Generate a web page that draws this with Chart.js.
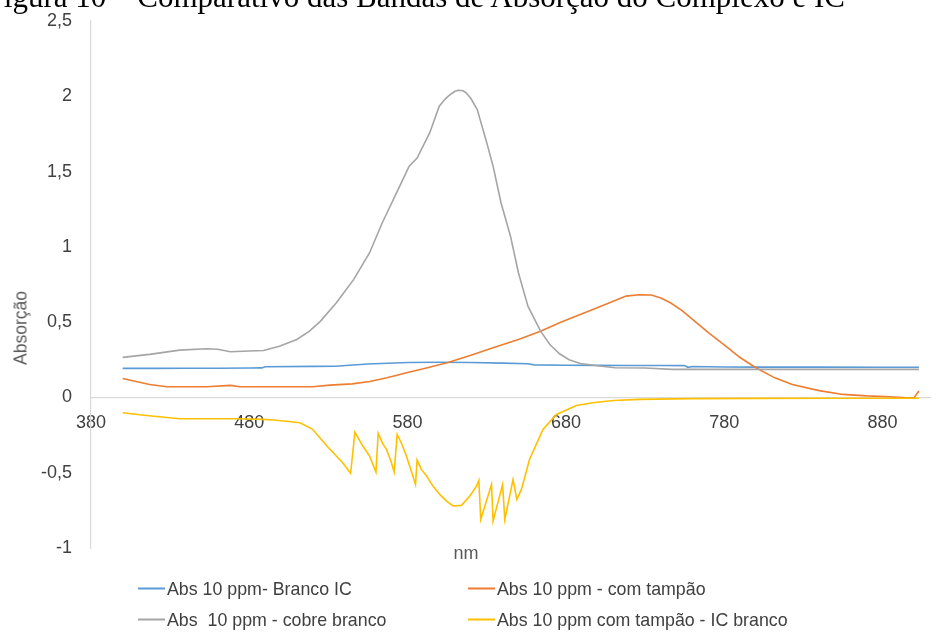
<!DOCTYPE html>
<html><head><meta charset="utf-8">
<script src="https://cdn.jsdelivr.net/npm/chart.js@4"></script>
<style>
html,body{margin:0;padding:0;background:#fff;overflow:hidden}
#wrap{position:relative;width:941px;height:633px;overflow:hidden;background:#fff}
canvas{position:absolute;left:0;top:0}
.t{position:absolute;white-space:nowrap}
#title{right:96px;top:-19px;font:31px/31px "Liberation Serif","Times New Roman",serif;color:#000}
#xt{left:466px;top:553px;transform:translate(-50%,-50%);font:18px "Liberation Sans",Arial,sans-serif;color:#595959}
#yt{left:21px;top:328px;transform:translate(-50%,-50%) rotate(-90deg);font:17.5px "Liberation Sans",Arial,sans-serif;color:#595959}
.lg{position:absolute;white-space:nowrap;font:17.8px "Liberation Sans",Arial,sans-serif;color:#404040;transform:translateY(-50%)}
.lg span.ln{display:inline-block;width:27px;height:2px;vertical-align:middle;margin-right:2px;position:relative;top:-1px}
</style></head><body>
<div id="wrap">
<canvas id="c" width="941" height="633"></canvas>
<div class="t" id="title">Figura 10 – Comparativo das Bandas de Absorção do Complexo e IC</div>
<div class="t" id="xt">nm</div>
<div class="t" id="yt">Absorção</div>
<div id="legend"></div>
</div>
<script>
// ---- data ----
const xTicks = [380, 480, 580, 680, 780, 880];
const yTicks = [-1, -0.5, 0, 0.5, 1, 1.5, 2, 2.5];

const seriesLabels = [
  "Abs 10 ppm- Branco IC",
  "Abs 10 ppm - com tampão",
  "Abs  10 ppm - cobre branco",
  "Abs 10 ppm com tampão - IC branco"
];
const seriesColors = ["#5B9BD5", "#ED7D31", "#A5A5A5", "#FFC000"];

const blueNm  = [400, 420, 440, 460, 480, 488, 490, 520, 535, 541, 555, 580, 600, 620, 640, 656, 660, 680, 700, 720, 740, 755, 757, 760, 780, 800, 840, 880, 903];
const blueAbs = [0.193, 0.193, 0.194, 0.194, 0.195, 0.196, 0.204, 0.206, 0.207, 0.212, 0.222, 0.232, 0.234, 0.232, 0.228, 0.224, 0.216, 0.214, 0.213, 0.212, 0.212, 0.211, 0.2, 0.205, 0.202, 0.201, 0.201, 0.2, 0.2];

const orangeNm  = [400, 417, 428, 453, 468, 474, 520, 531, 545, 556, 567, 580, 590, 605, 620, 634, 650, 664, 676, 689, 697, 708, 718, 726, 734, 740, 746, 753, 760, 770, 781, 790, 800, 812, 823, 840, 855, 870, 885, 895, 900, 903];
const orangeAbs = [0.126, 0.086, 0.071, 0.071, 0.08, 0.071, 0.071, 0.082, 0.09, 0.106, 0.131, 0.165, 0.19, 0.23, 0.28, 0.33, 0.385, 0.44, 0.496, 0.551, 0.584, 0.63, 0.673, 0.682, 0.68, 0.66, 0.629, 0.58, 0.518, 0.43, 0.341, 0.265, 0.197, 0.13, 0.086, 0.045, 0.02, 0.01, 0.005, -0.002, 0.0, 0.042];

const grayNm  = [400, 417, 436, 453, 460, 468, 480, 489, 499, 510, 518, 525, 535, 546, 556, 564, 573, 581, 586, 594, 600, 604, 607, 610, 612, 615, 617, 620, 624, 630, 634, 639, 645, 650, 656, 664, 670, 676, 682, 689, 700, 711, 730, 747, 800, 850, 903];
const grayAbs = [0.266, 0.286, 0.314, 0.323, 0.32, 0.303, 0.308, 0.312, 0.34, 0.385, 0.44, 0.507, 0.629, 0.784, 0.961, 1.16, 1.359, 1.536, 1.59, 1.758, 1.934, 1.985, 2.012, 2.033, 2.04, 2.037, 2.023, 1.985, 1.912, 1.691, 1.536, 1.293, 1.071, 0.828, 0.606, 0.44, 0.35, 0.29, 0.25, 0.225, 0.21, 0.197, 0.195, 0.186, 0.186, 0.186, 0.186];

const yellowNm  = [400, 415, 436, 470, 489, 495, 505, 512, 520, 529, 539, 544, 546.7, 551.7, 556, 560, 561.4, 564.5, 566.7, 569.8, 571.5, 573.4, 576, 579.3, 585, 586, 588.7, 592, 596, 600.3, 604.6, 608.7, 614, 619.3, 623.5, 625, 626.2, 633, 634, 640, 641.4, 646.6, 649, 651.9, 657, 665.5, 674, 686.6, 697, 710, 726.6, 760, 800, 850, 903];
const yellowAbs = [-0.102, -0.12, -0.142, -0.142, -0.146, -0.15, -0.16, -0.168, -0.212, -0.323, -0.434, -0.505, -0.23, -0.323, -0.39, -0.496, -0.239, -0.312, -0.345, -0.434, -0.496, -0.246, -0.301, -0.39, -0.578, -0.416, -0.478, -0.522, -0.589, -0.644, -0.689, -0.721, -0.717, -0.655, -0.589, -0.551, -0.81, -0.578, -0.821, -0.578, -0.81, -0.545, -0.677, -0.611, -0.412, -0.212, -0.113, -0.053, -0.035, -0.02, -0.013, -0.008, -0.006, -0.005, -0.005];

const seriesNm  = [blueNm, orangeNm, grayNm, yellowNm];
const seriesAbs = [blueAbs, orangeAbs, grayAbs, yellowAbs];

// ---- chart ----
const FONT = '"Liberation Sans", Arial, sans-serif';
const datasets = seriesLabels.map((label, k) => ({
  label,
  data: seriesNm[k].map((x, i) => ({x, y: seriesAbs[k][i]})),
  borderColor: seriesColors[k],
  backgroundColor: seriesColors[k],
  borderWidth: 1.6,
  pointRadius: 0,
  fill: false,
  tension: 0,
  order: 4 - k
}));

new Chart(document.getElementById('c'), {
  type: 'line',
  data: {datasets},
  options: {
    responsive: false,
    animation: false,
    layout: {padding: {left: 0, right: 11, top: 21, bottom: 85}},
    plugins: {legend: {display: false}, tooltip: {enabled: false}},
    scales: {
      x: {
        type: 'linear',
        position: {y: 0},
        min: 380, max: 910,
        afterBuildTicks: s => { s.ticks = xTicks.map(v => ({value: v})); },
        afterFit: s => { s.paddingLeft = 0; s.paddingRight = 0; s.paddingTop = 0; s.paddingBottom = 0; },
        grid: {display: true, color: 'rgba(0,0,0,0)', drawTicks: false},
        border: {display: true, color: '#D9D9D9', width: 1.2},
        ticks: {padding: 15, color: '#404040', font: {family: FONT, size: 18}, maxRotation: 0, autoSkip: false}
      },
      y: {
        type: 'linear',
        min: -1, max: 2.5,
        afterBuildTicks: s => { s.ticks = yTicks.map(v => ({value: v})); },
        afterFit: s => { s.width = 91; s.paddingTop = 0; s.paddingBottom = 0; },
        grid: {display: true, color: 'rgba(0,0,0,0)', drawTicks: false},
        border: {display: true, color: '#D9D9D9', width: 1.2},
        ticks: {padding: 19, color: '#404040', font: {family: FONT, size: 18},
                callback: v => String(v).replace('.', ',')}
      }
    }
  }
});

// ---- legend (two columns, like the reference) ----
const legendPos = [[138, 589], [468, 589], [138, 620], [468, 620]];
const lg = document.getElementById('legend');
seriesLabels.forEach((label, k) => {
  const d = document.createElement('div');
  d.className = 'lg';
  d.style.left = legendPos[k][0] + 'px';
  d.style.top = legendPos[k][1] + 'px';
  const ln = document.createElement('span');
  ln.className = 'ln';
  ln.style.background = seriesColors[k];
  d.appendChild(ln);
  d.appendChild(document.createTextNode(label.replace(/  /g, '\u00a0 ')));
  lg.appendChild(d);
});
</script>
</body></html>
